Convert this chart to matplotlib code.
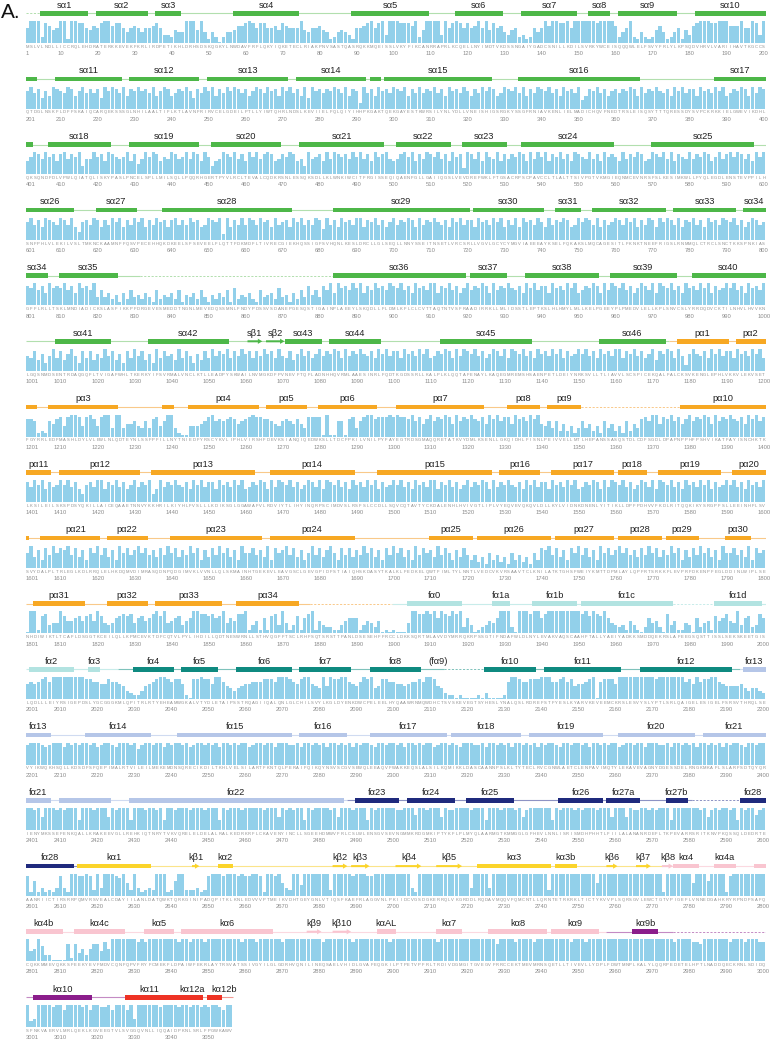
import matplotlib
matplotlib.use("Agg")
import matplotlib.pyplot as plt
from matplotlib.patches import Rectangle, Polygon
from bisect import bisect_right

plt.rcParams["font.family"] = ["Liberation Sans", "DejaVu Sans"]

# human ATM sequence, 60 residues per line
seq_lines = [
    "MSLVLNDLLI CCRQLEHDRA TERKKEVEKF KRLIRDPETI KHLDRHSDSK QGKYLNWDAV",
    "FRFLQKYIQK ETECLRIAKP NVSASTQASR QKKMQEISSL VKYFIKCANR RAPRLKCQEL",
    "LNYIMDTVKD SSNGAIYGAD CSNILLKDIL SVRKYWCEIS QQQWLELFSV YFRLYLKPSQ",
    "DVHRVLVARI IHAVTKGCCS QTDGLNSKFL DFFSKAIQCA RQEKSSSGLN HILAALTIFL",
    "KTLAVNFRIR VCELGDEILP TLLYIWTQHR LNDSLKEVII ELFQLQIYIH HPKGAKTQEK",
    "GAYESTKWRS ILYNLYDLLV NEISHIGSRG KYSSGFRNIA VKENLIELMA DICHQVFNED",
    "TRSLEISQSY TTTQRESSDY SVPCKRKKIE LGWEVIKDHL QKSQNDFDLV PWLQIATQLI",
    "SKYPASLPNC ELSPLLMILS QLLPQQRHGE RTPYVLRCLT EVALCQDKRS NLESSQKSDL",
    "LKLWNKIWCI TFRGISSEQI QAENFGLLGA IIQGSLVEVD REFWKLFTGS ACRPSCPAVC",
    "CLTLALTTSI VPGTVKMGIE QNMCEVNRSF SLKESIMKWL LFYQLEGDLE NSTEVPPILH",
    "SNFPHLVLEK ILVSLTMKNC KAAMNFFQSV PECEHHQKDK EELSFSEVEE LFLQTTFDKM",
    "DFLTIVRECG IEKHQSSIGF SVHQNLKESL DRCLLGLSEQ LLNNYSSEIT NSETLVRCSR",
    "LLVGVLGCYC YMGVIAEEEA YKSELFQKAK SLMQCAGESI TLFKNKTNEE FRIGSLRNMM",
    "QLCTRCLSNC TKKSPNKIAS GFFLRLLTSK LMNDIADICK SLASFIKKPF DRGEVESMED",
    "DTNGNLMEVE DQSSMNLFND YPDSSVSDAN EPGESQSTIG AINPLAEEYL SKQDLLFLDM",
    "LKFLCLCVTT AQTNTVSFRA ADIRRKLLML IDSSTLEPTK SLHLHMYLML LKELPGEEYP",
    "LPMEDVLELL KPLSNVCSLY RRDQDVCKTI LNHVLHVVKN LGQSNMDSEN TRDAQGQFLT",
    "VIGAFWHLTK ERKYIFSVRM ALVNCLKTLL EADPYSKWAI LNVMGKDFPV NEVFTQFLAD",
    "NHHQVRMLAA ESINRLFQDT KGDSSRLLKA LPLKLQQTAF ENAYLKAQEG MREMSHSAEN",
    "PETLDEIYNR KSVLLTLIAV VLSCSPICEK QALFALCKSV KENGLEPHLV KKVLEKVSET",
    "FGYRRLEDFM ASHLDYLVLE WLNLQDTEYN LSSFPFILLN YTNIEDFYRS CYKVLIPHLV",
    "IRSHFDEVKS IANQIQEDWK SLLTDCFPKI LVNILPYFAY EGTRDSGMAQ QRETATKVYD",
    "MLKSENLLGK QIDHLFISNL PEIVVELLMT LHEPANSSAS QSTDLCDFSG DLDPAPNPPH",
    "FPSHVIKATF AYISNCHKTK LKSILEILSK SPDSYQKILL AICEQAAETN NVYKKHRILK",
    "IYHLFVSLLL KDIKSGLGGA WAFVLRDVIY TLIHYINQRP SCIMDVSLRS FSLCCDLLSQ",
    "VCQTAVTYCK DALENHLHVI VGTLIPLVYE QVEVQKQVLD LLKYLVIDNK DNENLYITIK",
    "LLDPFPDHVV FKDLRITQQK IKYSRGPFSL LEEINHFLSV SVYDALPLTR LEGLKDLRRQ",
    "LELHKDQMVD IMRASQDNPQ DGIMVKLVVN LLQLSKMAIN HTGEKEVLEA VGSCLGEVGP",
    "IDFSTIAIQH SKDASYTKAL KLFEDKELQW TFIMLTYLNN TLVEDCVKVR SAAVTCLKNI",
    "LATKTGHSFW EIYKMTTDPM LAYLQPFRTS RKKFLEVPRF DKENPFEGLD DINLWIPLSE",
    "NHDIWIKTLT CAFLDSGGTK CEILQLLKPM CEVKTDFCQT VLPYLIHDIL LQDTNESWRN",
    "LLSTHVQGFF TSCLRHFSQT SRSTTPANLD SESEHFFRCC LDKKSQRTML AVVDYMRRQK",
    "RPSSGTIFND AFWLDLNYLE VAKVAQSCAA HFTALLYAEI YADKKSMDDQ EKRSLAFEEG",
    "SQSTTISSLS EKSKEETGIS LQDLLLEIYR SIGEPDSLYG CGGGKMLQPI TRLRTYEHEA",
    "MWGKALVTYD LETAIPSSTR QAGIIQALQN LGLCHILSVY LKGLDYENKD WCPELEELHY",
    "QAAWRNMQWD HCTSVSKEVE GTSYHESLYN ALQSLRDREF STFYESLKYA RVKEVEEMCK",
    "RSLESVYSLY PTLSRLQAIG ELESIGELFS RSVTHRQLSE VYIKWQKHSQ LLKDSDFSFQ",
    "EPIMALRTVI LEILMEKEMD NSQRECIKDI LTKHLVELSI LARTFKNTQL PERAIFQIKQ",
    "YNSVSCGVSE WQLEEAQVFW AKKEQSLALS ILKQMIKKLD ASCAANNPSL KLTYTECLRV",
    "CGNWLAETCL ENPAVIMQTY LEKAVEVAGN YDGESSDELR NGKMKAFLSL ARFSDTQYQR",
    "IENYMKSSEF ENKQALLKRA KEEVGLLREH KIQTNRYTVK VQRELELDEL ALRALKEDRK",
    "RFLCKAVENY INCLLSGEEH DMWVFRLCSL WLENSGVSEV NGMMKRDGMK IPTYKFLPLM",
    "YQLAARMGTK MMGGLGFHEV LNNLISRISM DHPHHTLFII LALANANRDE FLTKPEVARR",
    "SRITKNVPKQ SSQLDEDRTE AANRIICTIR SRRPQMVRSV EALCDAYIIL ANLDATQWKT",
    "QRKGINIPAD QPITKLKNLE DVVVPTMEIK VDHTGEYGNL VTIQSFKAEF RLAGGVNLPK",
    "IIDCVGSDGK ERRQLVKGRD DLRQDAVMQQ VFQMCNTLLQ RNTETRKRKL TICTYKVVPL",
    "SQRSGVLEWC TGTVPIGEFL VNNEDGAHKR YRPNDFSAFQ CQKKMMEVQK KSFEEKYEVF",
    "MDVCQNFQPV FRYFCMEKFL DPAIWFEKRL AYTRSVATSS IVGYILGLGD RHVQNILINE",
    "QSAELVHIDL GVAFEQGKIL PTPETVPFRL TRDIVDGMGI TGVEGVFRRC CEKTMEVMRN",
    "SQETLLTIVE VLLYDPLFDW TMNPLKALYL QQRPEDETEL HPTLNADDQE CKRNLSDIDQ",
    "SFNKVAERVL MRLQEKLKGV EEGTVLSVGG QVNLLIQQAI DPKNLSRLFP GWKAWV",
]
sequence = "".join(s.replace(" ", "") for s in seq_lines)

# conservation, one digit (0-9) per residue, one string per row of 200
cons_rows = [
    "6999287569 9199886576 8997886467 6466786332 5449995941 4202445778 9868866758 7666954667 5412454316 6789689399 "
    "9888792599 9939689868 6796958674 3562312646 9799889699 9999899997 2469214212 5741246153 7899988999 7779669839",
    "7968475987 6985796868 4979869587 9786957985 6879748697 9586979868 5798697859 7968594978 6879869587 2968597869 "
    "8795869687 9685978697 5869798569 8796958698 7968597869 3587968578 6879859687 9768597968 8597869795 6879859698",
    "5798697858 9687936697 8598767958 4697985769 8679698597 3569879685 9796898568 7985639678 5969878697 9685978965 "
    "6897958698 7968597829 8695976958 6879859697 9587968598 7696859787 5968798569 8796958769 6879857968 9798685979",
    "7968598769 8695378698 5869795869 7958697858 9686978569 8792958696 9869785967 8597968698 4968597869 9587968579 "
    "6879859687 9768597968 8597869795 8695978697 5968798569 7986958679 8697958698 5979869587 9685978698 7968579867",
    "8796859787 9685978693 6352415263 4253162435 2614352631 4253617243 5216345273 4152638463 8695978697 9586978698 "
    "7968597869 9587968579 6879859687 9768597968 8597869795 6879859698 7968579869 5987968597 8697958679 7968597869",
    "6584736958 4796385847 5968473859 6847395867 4958637485 9687958697 8586978596 5847968579 6879859687 9768597968 "
    "8597869795 6879859698 7968579869 5987968597 8697958679 7968597869 9587968579 4879859627 9768597968 8597869795",
    "7761216578 4899848974 8993993556 4363784699 3100444568 9676787567 8988776546 7657538888 0900660783 6899788898 "
    "9887968579 6879859687 9768597968 8597869795 4636252413 6352416352 4162537869 9587968579 6879859687 9768597968",
    "8697958679 7968537869 9587968579 6879359687 9768597968 8597869795 6879859698 7968579869 5987968597 8697958679 "
    "7968597869 9587968579 6879859687 9768597968 8597869795 6879859698 7968579869 5987968597 8697958679 7968597869",
    "6947385968 7958473869 5847396857 9685748596 8475968374 8596847396 6857493867 9584736958 4796385847 5968473859 "
    "6847395867 4958637485 3524163524 1635241638 7958473869 5847396857 9685748596 8475968374 8596847396 6857493867",
    "0991783449 7556757859 7434678784 6756897945 6735699887 8679465889 1351617839 4137168915 3221135666 1354250101 "
    "0004998898 9698798926 3012354699 9209998996 8999999999 8979879643 2315310264 5208351143 0624517568 5493672386",
    "6767897999 9999998877 6687765321 1356789987 8861088988 6997543456 6777888799 9876899654 9598899765 7989458877 "
    "6656778799 8542110100 0010200001 7998778889 9977897856 6789078886 9999999999 8999999978 6978899765 5556434432",
    "8999878999 7989899897 8998799989 6899899798 9989789989 8979989899 7899899799 9889799898 9799898979 8998799899 "
    "8979989899 7899898799 9889799898 9799898979 8998799899 8979989899 7899899799 9889799898 9799898979 8998799899",
    "9989599989 8999499989 9959899949 9989989499 8999899989 9949899989 9999899959 8989949899 9989599989 9949899999 "
    "8899969989 9959889999 8999499989 9989589999 9949899989 8999899959 9959889989 8999499999 9989589899 8949899689",
    "8161312138 3199889829 3999879529 3123299912 6992223128 9998999898 8998199895 3299499999 9929999989 9988999999 "
    "9999319999 9999999999 3999939999 9999999999 9299999999 9999599999 9999999999 9919999999 5999699991 8999999999",
    "9459622000 0717352577 4859999999 8989999999 9899899989 9999999989 9989999998 9999999999 8999999989 9999999989 "
    "9999999999 9899999999 9999999799 9989999899 9999999899 9899999999 9999999999 9999989999 8879999999 8999899988",
    "9239999899 7999989799 8897999793 9999998999 9899899898 998799",
]

# domains: first residue of each coloured region
dom_start = [1, 1175, 1900, 2026, 2194, 2488, 2615, 2773, 2958, 3028]
dom_color = ["#4db748", "#f7a823", "#b2e3e1", "#0f8a80", "#b5c6e8",
             "#1f2a7d", "#fbd42a", "#f9c5d0", "#8b1d8b", "#ee3224"]
dom_line = ["#b2dfae", "#f9c98a", "#c8ecea", "#7ec2bb", "#d0dbf1",
            "#8d93c4", "#fbe48a", "#fbd9e0", "#c48bc4", "#f39a92"]

# unmodelled stretches (dashed line)
gap_start = [1, 832, 1351, 1878, 1976, 2114, 2581, 2976]
gap_end = [4, 883, 1377, 1899, 1986, 2124, 2593, 3000]

# secondary structure elements
ss_name = ["sα1", "sα2", "sα3", "sα4", "sα5", "sα6", "sα7", "sα8", "sα9", "sα10",
           "sα11", "sα12", "sα13", "sα14", "", "sα15", "sα16", "sα17",
           "sα18", "sα19", "sα20", "sα21", "sα22", "sα23", "sα24", "sα25",
           "sα26", "sα27", "sα28", "sα29", "sα30", "sα31", "sα32", "sα33", "sα34",
           "sα35", "sα36", "sα37", "sα38", "sα39", "sα40",
           "sα41", "sα42", "sβ1", "sβ2", "sα43", "sα44", "sα45", "sα46", "pα1", "pα2",
           "pα3", "", "pα4", "pα5", "pα6", "pα7", "pα8", "pα9", "pα10",
           "pα11", "pα12", "pα13", "pα14", "pα15", "pα16", "pα17", "pα18", "pα19", "pα20",
           "", "pα21", "pα22", "pα23", "pα24", "pα25", "pα26", "pα27", "pα28", "pα29", "pα30",
           "pα31", "pα32", "pα33", "pα34", "fα0", "fα1a", "fα1b", "fα1c", "fα1d",
           "fα2", "fα3", "fα4", "fα5", "fα6", "fα7", "fα8", "fα10", "fα11", "fα12", "fα13",
           "fα14", "fα15", "fα16", "fα17", "fα18", "fα19", "fα20", "fα21",
           "", "fα22", "fα23", "fα24", "fα25", "fα26", "fα27a", "fα27b", "fα28",
           "kα1", "kβ1", "kα2", "kβ2", "kβ3", "kβ4", "kβ5", "kα3", "kα3b", "kβ6", "kβ7",
           "kβ8", "kα4", "kα4a", "kα4b", "kα4c", "kα5", "kα6", "kβ9", "kβ10", "kαAL",
           "kα7", "kα8", "kα9", "kα9b", "kα10", "kα11", "kα12a", "kα12b"]
ss_start = [5, 20, 36, 57, 89, 117, 135, 153, 161, 182,
            209, 229, 250, 274, 294, 298, 334, 387,
            407, 429, 451, 475, 501, 519, 535, 570,
            601, 620, 638, 684, 722, 744, 754, 776, 795,
            810, 884, 921, 936, 959, 981,
            1009, 1034, 1061, 1066, 1071, 1083, 1113, 1156, 1177, 1193,
            1207, 1238, 1245, 1266, 1280, 1301, 1331, 1342, 1378,
            1401, 1410, 1435, 1467, 1496, 1529, 1543, 1561, 1572, 1592,
            1605, 1608, 1623, 1640, 1667, 1710, 1723, 1744, 1761, 1774, 1790,
            1803, 1823, 1836, 1858, 1904, 1927, 1938, 1951, 1987,
            2002, 2018, 2030, 2043, 2058, 2075, 2094, 2125, 2141, 2167, 2195,
            2217, 2242, 2275, 2294, 2316, 2337, 2361, 2384,
            2410, 2429, 2490, 2504, 2520, 2545, 2558, 2574, 2594,
            2615, 2646, 2653, 2684, 2689, 2701, 2712, 2723, 2744, 2758, 2766,
            2773, 2776, 2787, 2798, 2814, 2833, 2843, 2877, 2884, 2896,
            2912, 2926, 2943, 2965, 3003, 3028, 3042, 3050]
ss_end = [17, 33, 42, 74, 109, 129, 149, 158, 176, 203,
          226, 247, 271, 292, 296, 326, 366, 402,
          423, 447, 469, 497, 515, 530, 559, 597,
          613, 630, 672, 720, 740, 750, 773, 792, 806,
          825, 919, 930, 955, 976, 1000,
          1023, 1055, 1064, 1070, 1080, 1096, 1137, 1173, 1190, 1203,
          1225, 1240, 1263, 1276, 1295, 1324, 1339, 1350, 1400,
          1407, 1431, 1462, 1489, 1526, 1539, 1559, 1568, 1588, 1601,
          1607, 1620, 1633, 1664, 1689, 1721, 1742, 1759, 1772, 1782, 1796,
          1816, 1833, 1853, 1874, 1918, 1931, 1949, 1975, 1999,
          2013, 2020, 2040, 2052, 2072, 2088, 2107, 2138, 2161, 2191, 2207,
          2234, 2272, 2287, 2314, 2334, 2356, 2381, 2407,
          2423, 2486, 2501, 2516, 2532, 2556, 2566, 2579, 2613,
          2634, 2647, 2656, 2687, 2693, 2707, 2718, 2742, 2749, 2760, 2769,
          2775, 2782, 2792, 2810, 2827, 2840, 2867, 2880, 2888, 2900,
          2918, 2941, 2955, 2971, 3018, 3041, 3048, 3053]

note_name = ["(fα9)"]
note_pos = [2112]

# labels that sit off-centre in the original
label_nudge = {"kα12b": 2.8, "kα12a": 0.4, "kα11": -0.5}

n_res = len(sequence)
row_len = 200
n_rows = (n_res + row_len - 1) // row_len

W, H = 773, 1041
fig = plt.figure(figsize=(W / 100, H / 100), dpi=100)
fig.text(1 / W, 1 - 13 / H, "A.", fontsize=15, va="center", ha="left", color="#111")

pitch = 65.6
x_left, x_right = 25.5, 765.5
scale = 22.0  # px per unit of conservation
BAR = "#92d0ea"


def domain_of(r):
    return bisect_right(dom_start, r) - 1


def in_gap(r):
    return any(a <= r <= b for a, b in zip(gap_start, gap_end))


for k in range(n_rows):
    top = k * pitch
    ax = fig.add_axes([x_left / W, 1 - (top + 60) / H, (x_right - x_left) / W, 60 / H])
    ax.set_xlim(0.5, row_len + 0.5)
    ax.set_ylim(-17 / scale, 43 / scale)
    ax.axis("off")
    first = k * row_len + 1
    last = min(first + row_len - 1, n_res)
    y_trk = (43 - 13.3) / scale
    y_lab = (43 - 5.0) / scale

    # conservation bars
    digits = cons_rows[k].replace(" ", "")
    vals = [0.06 + 0.94 * int(c) / 9 for c in digits[: last - first + 1]]
    ax.bar(range(1, len(vals) + 1), vals, width=0.86, color=BAR, linewidth=0)

    # sequence letters and residue numbers
    for i, ch in enumerate(sequence[first - 1:last]):
        ax.text(i + 1, -3.8 / scale, ch, fontsize=3.0, color="#8c8c8c",
                ha="center", va="center")
    ax.text(0.55, -10.6 / scale, str(first), fontsize=4.2, color="#8c8c8c",
            ha="left", va="center")
    for n in range((first // 10 + 1) * 10, last + 1, 10):
        ax.text(n - first + 1, -10.6 / scale, str(n), fontsize=4.2, color="#8c8c8c",
                ha="center", va="center")

    # coil line, split in runs of domain / dashed
    runs = []
    for r in range(first, last + 1):
        key = (domain_of(r), in_gap(r))
        if runs and runs[-1][2] == key:
            runs[-1][1] = r
        else:
            runs.append([r, r, key])
    for s, e, (d, g) in runs:
        ax.plot([s - first + 0.5, e - first + 1.5], [y_trk, y_trk], color=dom_line[d],
                lw=0.8 if not g else 0.7, ls=(0, (2.2, 1.6)) if g else "-",
                solid_capstyle="butt", zorder=2)

    # helices and strands
    for name, s, e in zip(ss_name, ss_start, ss_end):
        if e < first or s > last:
            continue
        col = dom_color[domain_of(s)]
        a, b = max(s, first) - first + 0.5, min(e, last) - first + 1.5
        if "β" in name:
            head = min(1.2, (b - a) * 0.6)
            bh, hh = 1.0 / scale, 2.6 / scale
            pts = [(a, y_trk - bh), (b - head, y_trk - bh), (b - head, y_trk - hh),
                   (b, y_trk), (b - head, y_trk + hh), (b - head, y_trk + bh),
                   (a, y_trk + bh)]
            ax.add_patch(Polygon(pts, closed=True, color=col, lw=0, zorder=3))
        else:
            ax.add_patch(Rectangle((a, y_trk - 2.35 / scale), b - a, 4.7 / scale,
                                   color=col, lw=0, zorder=3))
        seg = min(e, last) - max(s, first) + 1
        if name and (seg >= 4 or (s >= first and e <= last)):
            ax.text((a + b) / 2 + label_nudge.get(name, 0), y_lab, name, fontsize=6.7,
                    color="#222222", ha="center", va="center", zorder=4)

    for name, p in zip(note_name, note_pos):
        if first <= p <= last:
            ax.text(p - first + 1, y_lab, name, fontsize=6.7, color="#222222",
                    ha="center", va="center")

fig.savefig("out.png", dpi=100)
